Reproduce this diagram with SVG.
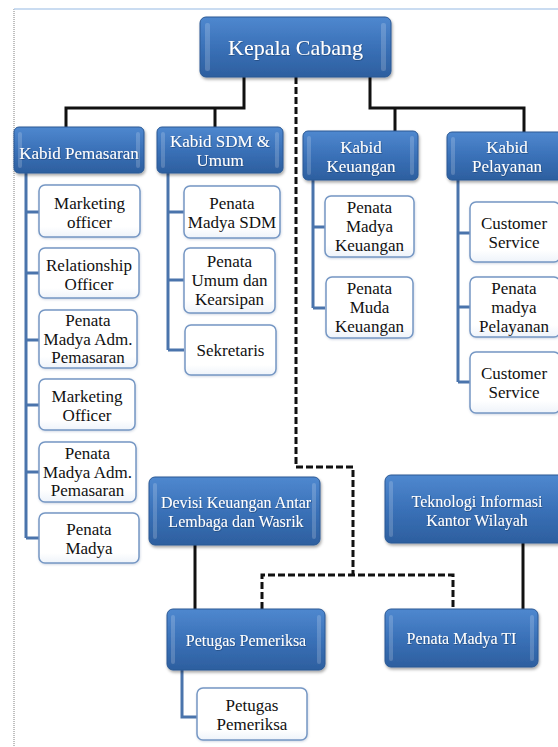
<svg xmlns="http://www.w3.org/2000/svg" width="558" height="747" viewBox="0 0 558 747">
<defs>
<linearGradient id="bg" x1="0" y1="0" x2="0" y2="1">
<stop offset="0" stop-color="#4F88CF"/>
<stop offset="0.5" stop-color="#3A71B8"/>
<stop offset="1" stop-color="#2D5F9F"/>
</linearGradient>
<linearGradient id="wg" x1="0" y1="0" x2="0" y2="1">
<stop offset="0" stop-color="#FFFFFF"/>
<stop offset="0.8" stop-color="#FFFFFF"/>
<stop offset="1" stop-color="#EEF3FA"/>
</linearGradient>
<filter id="sh" x="-10%" y="-10%" width="130%" height="140%">
<feDropShadow dx="1" dy="2" stdDeviation="1.5" flood-color="#000" flood-opacity="0.35"/>
</filter>
<filter id="ws" x="-10%" y="-10%" width="130%" height="140%">
<feDropShadow dx="0.5" dy="1" stdDeviation="1" flood-color="#7A8FB0" flood-opacity="0.35"/>
</filter>
<filter id="ts" x="-10%" y="-20%" width="130%" height="150%">
<feDropShadow dx="0.6" dy="0.8" stdDeviation="0.5" flood-color="#1A3A66" flood-opacity="0.7"/>
</filter>
</defs>
<style>
.b{fill:url(#bg);stroke:#2A5894;stroke-width:1;filter:url(#sh)}
.bv{fill:#FFFFFF;fill-opacity:0.18}
.w{fill:url(#wg);stroke:#7597C4;stroke-width:1.5;filter:url(#ws)}
.tb{font-family:"Liberation Serif",serif;font-size:17px;fill:#FFFFFF;text-anchor:middle;filter:url(#ts)}
.tk{font-family:"Liberation Serif",serif;font-size:22px;fill:#FFFFFF;text-anchor:middle;filter:url(#ts)}
.tw{font-family:"Liberation Serif",serif;font-size:17px;fill:#111111;text-anchor:middle}
.ls{fill:none;stroke:#111111;stroke-width:3}
.ld{fill:none;stroke:#111111;stroke-width:3;stroke-dasharray:7 3}
.lb{fill:none;stroke:#4A74AC;stroke-width:3}
</style>
<rect width="558" height="747" fill="#FFFFFF"/>
<g id="frame">
<line x1="14" y1="9" x2="14" y2="747" stroke="#808080" stroke-width="1" stroke-dasharray="1 1"/>
<line x1="14" y1="9" x2="558" y2="9" stroke="#B8D0EC" stroke-width="1.5"/>
</g>
<g id="connectors">
<path class="ls" d="M244 77 V108 H66 V127 M215 108 V127"/>
<path class="ls" d="M370 77 V108 H524 V132 M395 108 V131"/>
<path class="ld" d="M296 77 V467 H353 V575"/>
<path class="ld" d="M262 609 V575 H453 V609"/>
<path class="ls" d="M195 545 V609"/>
<path class="ls" d="M523 543 V609"/>
<path class="lb" d="M26 173 V538 M26 212 H39 M26 273 H39 M26 340 H39 M26 405 H39 M26 472 H39 M26 538 H39"/>
<path class="lb" d="M168 173 V350 M168 212 H184 M168 280 H184 M168 350 H184"/>
<path class="lb" d="M313 180 V308 M313 227 H325 M313 308 H325"/>
<path class="lb" d="M458 180 V382 M458 233 H470 M458 307 H470 M458 382 H470"/>
<path class="lb" d="M182 670 V717 H197"/>
</g>
<g id="kepala-cabang">
<rect class="b" x="200" y="17" width="191" height="60" rx="6"/>
<rect class="bv" x="205" y="23" width="5" height="48" rx="2"/>
<rect class="bv" x="381" y="23" width="5" height="48" rx="2"/>
<text class="tk" x="295.5" y="55">Kepala Cabang</text>
</g>
<g id="kabid-pemasaran">
<rect class="b" x="14" y="127" width="130" height="46" rx="5"/>
<rect class="bv" x="18" y="132" width="4" height="36" rx="2"/>
<rect class="bv" x="136" y="132" width="4" height="36" rx="2"/>
<text class="tb" x="79" y="159">Kabid Pemasaran</text>
</g>
<g id="kabid-sdm">
<rect class="b" x="157" y="127" width="126" height="46" rx="5"/>
<rect class="bv" x="161" y="132" width="4" height="36" rx="2"/>
<rect class="bv" x="275" y="132" width="4" height="36" rx="2"/>
<text class="tb" x="220" y="147">Kabid SDM &amp;</text>
<text class="tb" x="220" y="166">Umum</text>
</g>
<g id="kabid-keuangan">
<rect class="b" x="303" y="131" width="115" height="49" rx="5"/>
<rect class="bv" x="307" y="136" width="4" height="39" rx="2"/>
<rect class="bv" x="410" y="136" width="4" height="39" rx="2"/>
<text class="tb" x="361" y="153">Kabid</text>
<text class="tb" x="361" y="172">Keuangan</text>
</g>
<g id="kabid-pelayanan">
<rect class="b" x="447" y="132" width="120" height="48" rx="5"/>
<rect class="bv" x="451" y="137" width="4" height="38" rx="2"/>
<text class="tb" x="507" y="153">Kabid</text>
<text class="tb" x="507" y="172">Pelayanan</text>
</g>
<g id="marketing-officer-1">
<rect class="w" x="39" y="185" width="101" height="52" rx="6"/>
<text class="tw" x="89.5" y="209">Marketing</text>
<text class="tw" x="89.5" y="228">officer</text>
</g>
<g id="relationship-officer">
<rect class="w" x="39" y="248" width="100" height="50" rx="6"/>
<text class="tw" x="89" y="271">Relationship</text>
<text class="tw" x="89" y="290">Officer</text>
</g>
<g id="penata-madya-adm-1">
<rect class="w" x="39" y="310" width="98" height="58" rx="6"/>
<text class="tw" x="88" y="326">Penata</text>
<text class="tw" x="88" y="345">Madya Adm.</text>
<text class="tw" x="88" y="363">Pemasaran</text>
</g>
<g id="marketing-officer-2">
<rect class="w" x="39" y="379" width="96" height="51" rx="6"/>
<text class="tw" x="87" y="402">Marketing</text>
<text class="tw" x="87" y="421">Officer</text>
</g>
<g id="penata-madya-adm-2">
<rect class="w" x="39" y="442" width="97" height="60" rx="6"/>
<text class="tw" x="87.5" y="459">Penata</text>
<text class="tw" x="87.5" y="478">Madya Adm.</text>
<text class="tw" x="87.5" y="496">Pemasaran</text>
</g>
<g id="penata-madya">
<rect class="w" x="39" y="513" width="100" height="50" rx="6"/>
<text class="tw" x="89" y="535">Penata</text>
<text class="tw" x="89" y="554">Madya</text>
</g>
<g id="penata-madya-sdm">
<rect class="w" x="184" y="186" width="96" height="52" rx="6"/>
<text class="tw" x="232" y="209">Penata</text>
<text class="tw" x="232" y="228">Madya SDM</text>
</g>
<g id="penata-umum">
<rect class="w" x="184" y="248" width="91" height="65" rx="6"/>
<text class="tw" x="229.5" y="267">Penata</text>
<text class="tw" x="229.5" y="286">Umum dan</text>
<text class="tw" x="229.5" y="305">Kearsipan</text>
</g>
<g id="sekretaris">
<rect class="w" x="185" y="325" width="91" height="50" rx="6"/>
<text class="tw" x="230.5" y="356">Sekretaris</text>
</g>
<g id="penata-madya-keuangan">
<rect class="w" x="325" y="196" width="89" height="61" rx="6"/>
<text class="tw" x="369.5" y="213">Penata</text>
<text class="tw" x="369.5" y="232">Madya</text>
<text class="tw" x="369.5" y="251">Keuangan</text>
</g>
<g id="penata-muda-keuangan">
<rect class="w" x="326" y="277" width="87" height="61" rx="6"/>
<text class="tw" x="369.5" y="294">Penata</text>
<text class="tw" x="369.5" y="313">Muda</text>
<text class="tw" x="369.5" y="332">Keuangan</text>
</g>
<g id="customer-service-1">
<rect class="w" x="470" y="202" width="90" height="60" rx="6"/>
<text class="tw" x="514" y="229">Customer</text>
<text class="tw" x="514" y="248">Service</text>
</g>
<g id="penata-madya-pelayanan">
<rect class="w" x="470" y="277" width="90" height="60" rx="6"/>
<text class="tw" x="514" y="294">Penata</text>
<text class="tw" x="514" y="313">madya</text>
<text class="tw" x="514" y="332">Pelayanan</text>
</g>
<g id="customer-service-2">
<rect class="w" x="470" y="352" width="90" height="61" rx="6"/>
<text class="tw" x="514" y="379">Customer</text>
<text class="tw" x="514" y="398">Service</text>
</g>
<g id="devisi-keuangan">
<rect class="b" x="149" y="477" width="171" height="68" rx="6"/>
<rect class="bv" x="153" y="483" width="4" height="56" rx="2"/>
<rect class="bv" x="312" y="483" width="4" height="56" rx="2"/>
<text class="tb" x="236" y="508" style="font-size:16px">Devisi Keuangan Antar</text>
<text class="tb" x="236" y="527" style="font-size:16px">Lembaga dan Wasrik</text>
</g>
<g id="teknologi-informasi">
<rect class="b" x="385" y="475" width="184" height="68" rx="6"/>
<rect class="bv" x="389" y="481" width="4" height="56" rx="2"/>
<text class="tb" x="477" y="507" style="font-size:16px">Teknologi Informasi</text>
<text class="tb" x="477" y="526" style="font-size:16px">Kantor Wilayah</text>
</g>
<g id="petugas-pemeriksa-kepala">
<rect class="b" x="167" y="609" width="158" height="61" rx="6"/>
<rect class="bv" x="171" y="615" width="4" height="49" rx="2"/>
<rect class="bv" x="317" y="615" width="4" height="49" rx="2"/>
<text class="tb" x="246" y="646" style="font-size:16px">Petugas Pemeriksa</text>
</g>
<g id="penata-madya-ti">
<rect class="b" x="385" y="609" width="153" height="58" rx="6"/>
<rect class="bv" x="389" y="615" width="4" height="46" rx="2"/>
<rect class="bv" x="530" y="615" width="4" height="46" rx="2"/>
<text class="tb" x="461.5" y="644" style="font-size:16px">Penata Madya TI</text>
</g>
<g id="petugas-pemeriksa">
<rect class="w" x="197" y="688" width="110" height="52" rx="6"/>
<text class="tw" x="252" y="711">Petugas</text>
<text class="tw" x="252" y="730">Pemeriksa</text>
</g>
</svg>
